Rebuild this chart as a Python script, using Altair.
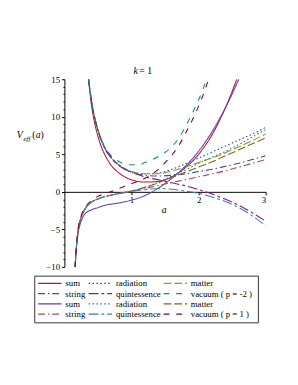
import altair as alt
import pandas as pd

# ---- p = -2 group (diverges to +inf as a -> 0)
A_T = [0.36, 0.4, 0.45, 0.5, 0.55, 0.6, 0.7, 0.8, 0.9, 1.0, 1.2, 1.4, 1.6, 1.8, 2.0, 2.2, 2.4, 2.6, 2.8, 3.0]
rad_T = [15, 12.3, 9.9, 8.2, 6.9, 5.9, 4.6, 3.7, 3.1, 2.7, 2.4, 2.5, 3.0, 3.7, 4.5, 5.3, 6.1, 6.9, 7.7, 8.6]
mat_T = [15, 12.3, 9.9, 8.2, 6.9, 5.9, 4.6, 3.7, 3.1, 2.7, 2.4, 2.4, 2.8, 3.3, 3.9, 4.5, 5.2, 6.0, 6.8, 7.7]
str_T = [15, 12.3, 9.9, 8.2, 6.9, 5.9, 4.5, 3.6, 3.0, 2.6, 2.2, 2.1, 2.2, 2.4, 2.7, 3.0, 3.4, 3.8, 4.3, 4.8]
qui_T = [15, 12.3, 9.9, 8.2, 6.9, 5.8, 4.5, 3.6, 3.0, 2.6, 2.0, 1.6, 1.2, 0.8, 0.3, -0.3, -1.0, -1.8, -2.8, -3.9]
A_sum_T = [0.36, 0.4, 0.45, 0.5, 0.55, 0.6, 0.7, 0.8, 0.9, 1.0, 1.2, 1.4, 1.6, 1.8, 2.0, 2.2, 2.4, 2.57]
sum_T = [15, 11.8, 9.2, 7.4, 6.0, 5.0, 3.5, 2.6, 2.0, 1.6, 1.3, 1.4, 2.0, 3.2, 5.0, 7.6, 11.2, 15]
A_vac_T = [0.36, 0.4, 0.45, 0.5, 0.55, 0.6, 0.7, 0.8, 0.9, 1.0, 1.1, 1.2, 1.4, 1.6, 1.7, 1.8, 1.95, 2.05, 2.12]
vac_T = [15, 12.4, 10.0, 8.3, 7.0, 6.0, 4.8, 4.1, 3.7, 3.6, 3.6, 3.9, 4.7, 6.0, 7.1, 8.6, 11.3, 13.3, 15]

# ---- p = 1 group (diverges to -inf as a -> 0)
A_B = [0.16, 0.18, 0.2, 0.25, 0.3, 0.4, 0.5, 0.6, 0.8, 1.0, 1.2, 1.4, 1.6, 1.8, 2.0, 2.2, 2.4, 2.6, 2.8, 3.0]
rad_B = [-10, -7.2, -5.4, -3.4, -2.4, -1.4, -0.95, -0.65, -0.25, 0.1, 0.6, 1.3, 2.1, 2.9, 3.8, 4.6, 5.4, 6.3, 7.3, 8.3]
mat_B = [-10, -7.2, -5.4, -3.4, -2.4, -1.4, -0.95, -0.65, -0.25, 0.1, 0.6, 1.2, 1.9, 2.6, 3.3, 4.0, 4.8, 5.6, 6.4, 7.2]
str_B = [-10, -7.2, -5.4, -3.4, -2.4, -1.4, -0.95, -0.65, -0.25, 0.1, 0.45, 0.85, 1.25, 1.6, 2.0, 2.4, 2.8, 3.3, 3.8, 4.3]
qui_B = [-10, -7.2, -5.4, -3.4, -2.4, -1.4, -0.95, -0.65, -0.25, 0.05, 0.3, 0.45, 0.35, 0.1, -0.2, -0.7, -1.3, -2.1, -3.2, -4.5]
A_sum_B = [0.16, 0.18, 0.2, 0.25, 0.3, 0.4, 0.5, 0.6, 0.8, 1.0, 1.2, 1.4, 1.6, 1.8, 2.0, 2.2, 2.4, 2.6]
sum_B = [-10, -7.4, -5.8, -3.9, -3.0, -2.4, -2.1, -1.8, -1.5, -1.1, -0.5, 0.5, 1.8, 3.4, 5.4, 8.0, 11.2, 15]
A_vac_B = [0.16, 0.18, 0.2, 0.25, 0.3, 0.4, 0.5, 0.6, 0.7, 0.8, 0.9, 1.0, 1.2, 1.4, 1.6, 1.7, 1.8, 1.95, 2.05, 2.15]
vac_B = [-10, -7.1, -5.3, -3.2, -2.2, -1.2, -0.6, -0.25, 0.05, 0.4, 0.75, 1.1, 1.8, 3.0, 4.9, 6.1, 7.7, 10.4, 12.5, 15]

# y axis ticks (labels only on multiples of 5)
Y_TICKS = list(range(-10, 16))
X_TICKS = [1, 2, 3]

# legend order (row-wise, 3 columns)
KEYS = ["sumT", "radT", "matT", "strT", "quiT", "vacT",
        "sumB", "radB", "matB", "strB", "quiB", "vacB"]
LABELS = ["sum", "radiation", "matter", "string", "quintessence", "vacuum  ( p = -2 )",
          "sum", "radiation", "matter", "string", "quintessence", "vacuum  ( p = 1 )"]
COLORS = ["#B01830", "#2A3FC0", "#74A828", "#3050A8", "#8C168E", "#0E9080",
          "#6040B4", "#1E7890", "#9A5A10", "#B04858", "#3C82A4", "#84002E"]
DASHES = [[1, 0], [1.5, 2.5], [8, 3], [7, 3, 1.5, 3], [10, 3, 3, 3], [6, 7],
          [1, 0], [1.5, 2.5], [8, 3], [7, 3, 1.5, 3], [10, 3, 3, 3], [6, 7]]

series = {
    "sumT": (A_sum_T, sum_T), "radT": (A_T, rad_T), "matT": (A_T, mat_T),
    "strT": (A_T, str_T), "quiT": (A_T, qui_T), "vacT": (A_vac_T, vac_T),
    "sumB": (A_sum_B, sum_B), "radB": (A_B, rad_B), "matB": (A_B, mat_B),
    "strB": (A_B, str_B), "quiB": (A_B, qui_B), "vacB": (A_vac_B, vac_B),
}
rows = []
for k, (xs, ys) in series.items():
    for i, (x, y) in enumerate(zip(xs, ys)):
        rows.append({"key": k, "a": x, "V": y, "i": i})
df = pd.DataFrame(rows)

label_map = "{" + ",".join(f"'{k}':'{l}'" for k, l in zip(KEYS, LABELS)) + "}"
FONT = "Liberation Serif"

W, H = 207, 193

lines = alt.Chart(df).mark_line(strokeWidth=1.1, clip=True, interpolate="monotone").encode(
    x=alt.X("a:Q", scale=alt.Scale(domain=[0, 3], nice=False),
            axis=alt.Axis(values=X_TICKS, format="d", offset=-77.2, title=None,
                          domainColor="black", tickColor="black", tickSize=3,
                          labelFont=FONT, labelFontSize=9, labelColor="black",
                          labelPadding=1, grid=False)),
    y=alt.Y("V:Q", scale=alt.Scale(domain=[-10, 15], nice=False),
            axis=alt.Axis(values=Y_TICKS, title=None,
                          labelExpr="datum.value % 5 === 0 ? datum.label : ''",
                          domainColor="black", tickColor="black",
                          tickSize={"condition": {"test": "datum.value % 5 === 0", "value": 3},
                                    "value": 1.5},
                          labelFont=FONT, labelFontSize=9, labelColor="black",
                          labelPadding=2, grid=False)),
    color=alt.Color("key:N", scale=alt.Scale(domain=KEYS, range=COLORS),
                    legend=alt.Legend(title=None, orient="none", legendX=-31, legendY=202,
                                      direction="horizontal",
                                      columns=3, symbolType="stroke", symbolSize=576,
                                      clipHeight=10,
                                      symbolStrokeWidth=1.3, labelFont=FONT, labelFontSize=9,
                                      labelColor="black", labelExpr=label_map + "[datum.label]",
                                      strokeColor="#333", padding=3, rowPadding=0.5,
                                      columnPadding=2, labelOffset=3, labelLimit=0)),
    strokeDash=alt.StrokeDash("key:N", scale=alt.Scale(domain=KEYS, range=DASHES),
                              legend=alt.Legend(title=None)),
    order="i:Q",
)

def txt(s, x, y, size=9, style="normal", align="left"):
    return alt.Chart(pd.DataFrame({"t": [s]})).mark_text(
        font=FONT, fontSize=size, fontStyle=style, align=align, baseline="alphabetic",
        color="black").encode(x=alt.value(x), y=alt.value(y), text="t:N")

title = txt("k", 71, -5, 10, "italic") + txt("= 1", 77, -5, 10)
ylab = (txt("V", -49, 60, 10, "italic") + txt("eff", -42, 63, 7, "italic")
        + txt("(", -33, 60, 10) + txt("a", -29.5, 60, 10, "italic") + txt(")", -24.5, 60, 10))
xlab = txt("a", 100, 138, 10, "italic")

chart = alt.layer(lines, title, ylab, xlab).properties(
    width=W, height=H,
    autosize=alt.AutoSizeParams(type="none"),
    padding={"left": 58, "top": 68, "right": 25, "bottom": 110},
).configure_view(stroke=None).configure_axis(domainWidth=1)

chart.save("out.html", embed_options={"renderer": "svg", "actions": False})
